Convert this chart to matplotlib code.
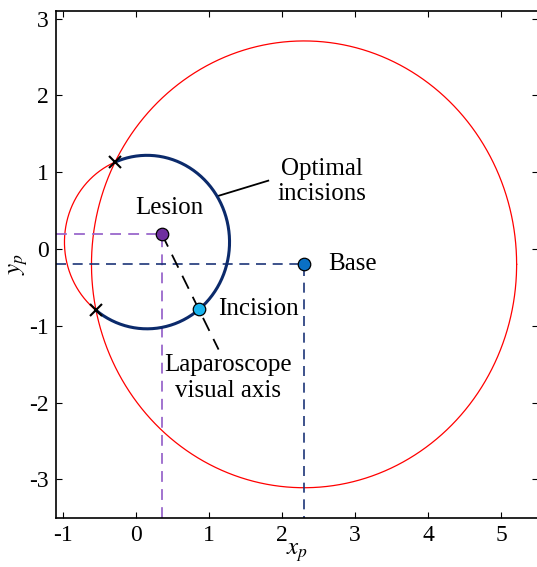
import numpy as np
import matplotlib
matplotlib.use('Agg')
import matplotlib.pyplot as plt

fam = 'Liberation Serif'
plt.rcParams['font.family'] = fam
plt.rcParams['mathtext.fontset'] = 'stix'
plt.rcParams['axes.unicode_minus'] = False

# data
lesion = [0.35, 0.2]
base = [2.3, -0.2]
incision = [0.86, -0.78]
small_center = [0.15, 0.09]
small_r = 1.13
big_r = 2.91
crossings_x = [-0.29, -0.55]
crossings_y = [1.13, -0.80]
axis_end = [1.13, -1.31]
pointer_x = [1.12, 1.81]
pointer_y = [0.69, 0.89]

fig = plt.figure(figsize=(5.37, 5.67), dpi=100)
ax = fig.add_axes([0.1037, 0.087, 0.8978, 0.8936])

# big red circle around the base
t = np.linspace(0, 2 * np.pi, 400)
ax.plot(base[0] + big_r * np.cos(t), base[1] + big_r * np.sin(t), color='red', lw=0.9)

# small circle: thick blue arc inside, thin red arc outside
a_top = np.arctan2(crossings_y[0] - small_center[1], crossings_x[0] - small_center[0])
a_bot = np.arctan2(crossings_y[1] - small_center[1], crossings_x[1] - small_center[0])
ta = np.linspace(a_bot, a_top, 300)
ax.plot(small_center[0] + small_r * np.cos(ta), small_center[1] + small_r * np.sin(ta),
        color='#0b2a6b', lw=2.2, zorder=3)
tb = np.linspace(a_top, a_bot + 2 * np.pi, 200)
ax.plot(small_center[0] + small_r * np.cos(tb), small_center[1] + small_r * np.sin(tb),
        color='red', lw=0.9)

# projection dashed lines
xmin, xmax, ymin, ymax = -1.1, 5.5, -3.5, 3.1
ax.plot([xmin, lesion[0], lesion[0]], [lesion[1], lesion[1], ymin],
        color='#9a68cc', lw=1.3, dashes=(6, 4))
ax.plot([xmin, base[0], base[0]], [base[1], base[1], ymin],
        color='#1c3578', lw=1.2, dashes=(6, 4))

# laparoscope visual axis
ax.plot([lesion[0], axis_end[0]], [lesion[1], axis_end[1]], color='black', lw=1.3,
        dashes=(8, 5), zorder=4)

# pointer for optimal incisions
ax.plot(pointer_x, pointer_y, color='black', lw=1.3)

# crossings
ax.plot(crossings_x, crossings_y, 'x', color='black', ms=9, mew=1.5, zorder=5)

# points
ax.plot(lesion[0], lesion[1], 'o', ms=9, mfc='#6f2f9f', mec='black', mew=0.9, zorder=6)
ax.plot(base[0], base[1], 'o', ms=9, mfc='#0a70c4', mec='black', mew=0.9, zorder=6)
ax.plot(incision[0], incision[1], 'o', ms=9, mfc='#18b4ee', mec='black', mew=0.9, zorder=6)

fs = 18
ax.text(2.54, 0.88, 'Optimal\nincisions', ha='center', va='center', fontsize=fs,
        linespacing=1.2, family=fam)
ax.text(0.46, 0.535, 'Lesion', ha='center', va='center', fontsize=fs, family=fam)
ax.text(2.63, -0.2, 'Base', ha='left', va='center', fontsize=fs, family=fam)
ax.text(1.12, -0.78, 'Incision', ha='left', va='center', fontsize=fs, family=fam)
ax.text(1.26, -1.68, 'Laparoscope\nvisual axis', ha='center', va='center', fontsize=fs,
        linespacing=1.2, family=fam)

ax.set_xlim(xmin, xmax)
ax.set_ylim(ymin, ymax)
ax.set_xticks([-1, 0, 1, 2, 3, 4, 5])
ax.set_yticks([-3, -2, -1, 0, 1, 2, 3])
ax.tick_params(direction='in', top=True, right=True, length=4, labelsize=17, pad=5)
for lbl in ax.get_xticklabels() + ax.get_yticklabels():
    lbl.set_family(fam)
for s in ax.spines.values():
    s.set_linewidth(1.2)
ax.set_xlabel(r'$x_p$', fontsize=18, labelpad=-3)
ax.set_ylabel(r'$y_p$', fontsize=18, labelpad=-1)

fig.savefig('out.png', dpi=100)
